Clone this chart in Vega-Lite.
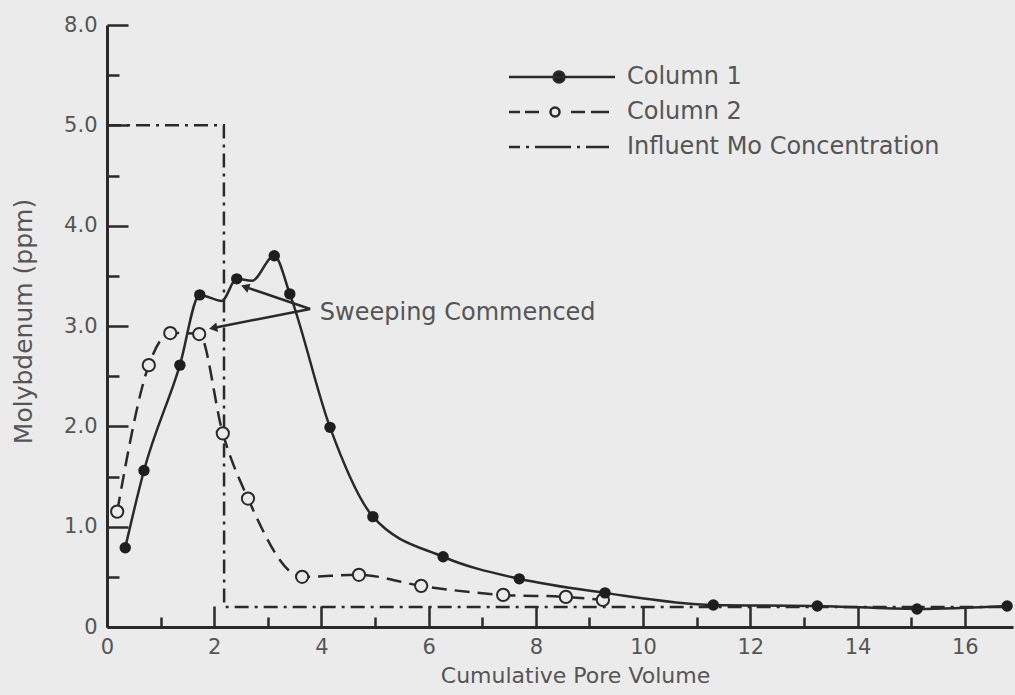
{
  "$schema": "https://vega.github.io/schema/vega-lite/v6.json",
  "autosize": {"type": "none"},
  "padding": {"left": 107, "top": 25, "right": 2, "bottom": 68},
  "width": 906,
  "height": 602,
  "background": "#ebebeb",
  "config": {
    "view": {"stroke": null},
    "font": "DejaVu Sans",
    "axis": {
      "grid": false,
      "domainColor": "#2a2a2a",
      "domainWidth": 3,
      "tickColor": "#2a2a2a",
      "tickWidth": 2.5,
      "labelFont": "DejaVu Sans",
      "labelFontSize": 21,
      "labelColor": "#555555",
      "titleFont": "DejaVu Sans",
      "titleFontSize": 24,
      "titleFontWeight": "normal",
      "titleColor": "#555555"
    },
    "legend": {
      "orient": "none",
      "legendX": 400,
      "legendY": 40,
      "padding": 0,
      "symbolSize": 400,
      "symbolStrokeColor": "#2a2a2a",
      "symbolStrokeWidth": 2.5,
      "symbolOpacity": 1,
      "labelOffset": 96,
      "labelLimit": 0,
      "labelFont": "DejaVu Sans",
      "labelFontSize": 24,
      "labelColor": "#555555",
      "rowPadding": 11,
      "title": null
    }
  },
  "datasets": {
    "measurements": [
      {"series": "Column 1", "x": 0.34, "y": 0.79, "kind": "sample"},
      {"series": "Column 1", "x": 0.69, "y": 1.56, "kind": "sample"},
      {"series": "Column 1", "x": 1.36, "y": 2.61, "kind": "sample"},
      {"series": "Column 1", "x": 1.73, "y": 3.31, "kind": "sample"},
      {"series": "Column 1", "x": 2.14, "y": 3.25, "kind": "vertex"},
      {"series": "Column 1", "x": 2.42, "y": 3.47, "kind": "sample"},
      {"series": "Column 1", "x": 2.70, "y": 3.45, "kind": "vertex"},
      {"series": "Column 1", "x": 3.12, "y": 3.70, "kind": "sample"},
      {"series": "Column 1", "x": 3.41, "y": 3.32, "kind": "sample"},
      {"series": "Column 1", "x": 4.16, "y": 1.99, "kind": "sample"},
      {"series": "Column 1", "x": 4.96, "y": 1.10, "kind": "sample"},
      {"series": "Column 1", "x": 6.27, "y": 0.70, "kind": "sample"},
      {"series": "Column 1", "x": 7.69, "y": 0.48, "kind": "sample"},
      {"series": "Column 1", "x": 9.29, "y": 0.34, "kind": "sample"},
      {"series": "Column 1", "x": 11.31, "y": 0.22, "kind": "sample"},
      {"series": "Column 1", "x": 13.25, "y": 0.21, "kind": "sample"},
      {"series": "Column 1", "x": 15.11, "y": 0.18, "kind": "sample"},
      {"series": "Column 1", "x": 16.79, "y": 0.21, "kind": "sample"},
      {"series": "Column 2", "x": 0.19, "y": 1.15, "kind": "sample"},
      {"series": "Column 2", "x": 0.78, "y": 2.61, "kind": "sample"},
      {"series": "Column 2", "x": 1.18, "y": 2.93, "kind": "sample"},
      {"series": "Column 2", "x": 1.72, "y": 2.92, "kind": "sample"},
      {"series": "Column 2", "x": 2.16, "y": 1.93, "kind": "sample"},
      {"series": "Column 2", "x": 2.63, "y": 1.28, "kind": "sample"},
      {"series": "Column 2", "x": 3.64, "y": 0.50, "kind": "sample"},
      {"series": "Column 2", "x": 4.70, "y": 0.52, "kind": "sample"},
      {"series": "Column 2", "x": 5.86, "y": 0.41, "kind": "sample"},
      {"series": "Column 2", "x": 7.39, "y": 0.32, "kind": "sample"},
      {"series": "Column 2", "x": 8.56, "y": 0.30, "kind": "sample"},
      {"series": "Column 2", "x": 9.25, "y": 0.27, "kind": "sample"},
      {"series": "Influent Mo Concentration", "x": 0, "y": 5.0, "kind": "vertex"},
      {"series": "Influent Mo Concentration", "x": 2.18, "y": 5.0, "kind": "vertex"},
      {"series": "Influent Mo Concentration", "x": 2.185, "y": 0.2, "kind": "vertex"},
      {"series": "Influent Mo Concentration", "x": 16.8, "y": 0.2, "kind": "vertex"}
    ],
    "label": [
      {"text": "Sweeping Commenced", "x": 3.97, "y": 3.13}
    ],
    "arrows": [
      {"arrow": "upper", "x": 3.79, "y": 3.17, "x2": 2.575, "y2": 3.39},
      {"arrow": "lower", "x": 3.79, "y": 3.17, "x2": 1.98, "y2": 2.98}
    ]
  },
  "resolve": {"axis": {"x": "independent", "y": "independent"}},
  "layer": [
    {
      "mark": {"type": "rule", "color": "#2a2a2a", "strokeWidth": 3},
      "encoding": {
        "y": {"datum": 6, "type": "quantitative", "scale": {"domain": [0, 6], "nice": false}, "axis": null}
      }
    },
    {
      "data": {"name": "measurements"},
      "transform": [{"filter": "datum.series == 'Influent Mo Concentration'"}],
      "mark": {"type": "line", "color": "#2a2a2a", "strokeWidth": 2.5, "strokeDash": [14, 6, 3, 6]},
      "encoding": {
        "x": {"field": "x", "type": "quantitative", "scale": {"domain": [0, 16.9], "nice": false, "zero": false},
          "axis": {"orient": "bottom", "values": [1, 3, 5, 7, 9, 11, 13, 15], "tickSize": -10, "labels": false, "domain": false, "title": null}},
        "y": {"field": "y", "type": "quantitative", "scale": {"domain": [0, 6], "nice": false},
          "axis": {"orient": "left", "values": [0.5, 1.5, 2.5, 3.5, 4.5, 5.5], "tickSize": -12, "labels": false, "domain": false, "title": null}}
      }
    },
    {
      "data": {"name": "measurements"},
      "transform": [{"filter": "datum.series == 'Column 2'"}],
      "mark": {"type": "line", "color": "#2a2a2a", "strokeWidth": 2.5, "strokeDash": [15, 8], "interpolate": "monotone"},
      "encoding": {
        "x": {"field": "x", "type": "quantitative", "scale": {"domain": [0, 16.9], "nice": false, "zero": false}, "axis": null},
        "y": {"field": "y", "type": "quantitative", "scale": {"domain": [0, 6], "nice": false}, "axis": null}
      }
    },
    {
      "data": {"name": "measurements"},
      "transform": [{"filter": "datum.series == 'Column 1'"}],
      "mark": {"type": "line", "color": "#2a2a2a", "strokeWidth": 2.5, "interpolate": "monotone"},
      "encoding": {
        "x": {"field": "x", "type": "quantitative", "scale": {"domain": [0, 16.9], "nice": false, "zero": false},
          "axis": {"orient": "bottom", "values": [0, 2, 4, 6, 8, 10, 12, 14, 16], "tickSize": -21, "labelPadding": 30, "labelFlush": false, "labelOverlap": false,
            "title": "Cumulative Pore Volume", "titleFontSize": 22, "titleX": 468, "titleY": 55, "titleAlign": "center", "titleBaseline": "alphabetic"}},
        "y": {"field": "y", "type": "quantitative", "scale": {"domain": [0, 6], "nice": false},
          "axis": {"orient": "left", "values": [0, 1, 2, 3, 4, 5, 6], "tickSize": -21, "labelPadding": 31, "labelOverlap": false,
            "labelExpr": "datum.value == 6 ? '8.0' : (datum.value == 0 ? '0' : format(datum.value, '.1f'))",
            "title": "Molybdenum (ppm)", "titleFontSize": 25, "titleX": -76, "titleY": 296, "titleAlign": "center", "titleBaseline": "alphabetic", "titleAngle": 270}}
      }
    },
    {
      "data": {"name": "measurements"},
      "transform": [{"filter": "datum.series == 'Column 2'"}],
      "mark": {"type": "point", "shape": "circle", "size": 150, "filled": false, "fill": "#ebebeb", "stroke": "#2a2a2a", "strokeWidth": 2, "opacity": 1},
      "encoding": {
        "x": {"field": "x", "type": "quantitative", "scale": {"domain": [0, 16.9], "nice": false, "zero": false}, "axis": null},
        "y": {"field": "y", "type": "quantitative", "scale": {"domain": [0, 6], "nice": false}, "axis": null}
      }
    },
    {
      "data": {"name": "measurements"},
      "transform": [{"filter": "datum.series == 'Column 1' && datum.kind == 'sample'"}],
      "mark": {"type": "point", "shape": "circle", "size": 130, "filled": true, "color": "#1e1e1e", "opacity": 1},
      "encoding": {
        "x": {"field": "x", "type": "quantitative", "scale": {"domain": [0, 16.9], "nice": false, "zero": false}, "axis": null},
        "y": {"field": "y", "type": "quantitative", "scale": {"domain": [0, 6], "nice": false}, "axis": null}
      }
    },
    {
      "data": {"name": "measurements"},
      "mark": {"type": "point", "filled": true, "opacity": 0, "strokeWidth": 2.5, "clip": true},
      "encoding": {
        "x": {"field": "x", "type": "quantitative", "scale": {"domain": [0, 16.9], "nice": false, "zero": false}, "axis": null},
        "y": {"field": "y", "type": "quantitative", "scale": {"domain": [0, 6], "nice": false}, "axis": null},
        "shape": {
          "field": "series", "type": "nominal",
          "scale": {
            "domain": ["Column 1", "Column 2", "Influent Mo Concentration"],
            "range": [
              "M-1,0H9.6M4.55,0A0.55,0.55 0 1,1 3.45,0A0.55,0.55 0 1,1 4.55,0Z",
              "M-1,0H0.1M0.6,0H2.0M5.2,0H6.6M7.2,0H9.0M4.05,0A0.45,0.45 0 1,1 3.15,0A0.45,0.45 0 1,1 4.05,0Z",
              "M-1,0H0.1M0.7,0H1.0M1.6,0H5.2M5.8,0H6.1M6.7,0H9.0"
            ]
          }
        },
        "fill": {
          "field": "series", "type": "nominal",
          "scale": {
            "domain": ["Column 1", "Column 2", "Influent Mo Concentration"],
            "range": ["#1e1e1e", "#ebebeb", "transparent"]
          }
        },
        "stroke": {
          "field": "series", "type": "nominal",
          "scale": {
            "domain": ["Column 1", "Column 2", "Influent Mo Concentration"],
            "range": ["#2a2a2a", "#2a2a2a", "#2a2a2a"]
          }
        }
      }
    },
    {
      "data": {"name": "arrows"},
      "mark": {"type": "rule", "color": "#2a2a2a", "strokeWidth": 2.5},
      "encoding": {
        "x": {"field": "x", "type": "quantitative", "scale": {"domain": [0, 16.9], "nice": false, "zero": false}, "axis": null},
        "y": {"field": "y", "type": "quantitative", "scale": {"domain": [0, 6], "nice": false}, "axis": null},
        "x2": {"field": "x2"},
        "y2": {"field": "y2"}
      }
    },
    {
      "data": {"name": "arrows"},
      "transform": [{"filter": "datum.arrow == 'upper'"}],
      "mark": {"type": "point", "shape": "triangle-left", "filled": true, "color": "#2a2a2a", "size": 90, "angle": 19, "opacity": 1},
      "encoding": {
        "x": {"field": "x2", "type": "quantitative", "scale": {"domain": [0, 16.9], "nice": false, "zero": false}, "axis": null},
        "y": {"field": "y2", "type": "quantitative", "scale": {"domain": [0, 6], "nice": false}, "axis": null}
      }
    },
    {
      "data": {"name": "arrows"},
      "transform": [{"filter": "datum.arrow == 'lower'"}],
      "mark": {"type": "point", "shape": "triangle-left", "filled": true, "color": "#2a2a2a", "size": 90, "angle": 349, "opacity": 1},
      "encoding": {
        "x": {"field": "x2", "type": "quantitative", "scale": {"domain": [0, 16.9], "nice": false, "zero": false}, "axis": null},
        "y": {"field": "y2", "type": "quantitative", "scale": {"domain": [0, 6], "nice": false}, "axis": null}
      }
    },
    {
      "data": {"name": "label"},
      "mark": {"type": "text", "align": "left", "baseline": "middle", "font": "DejaVu Sans", "fontSize": 24, "color": "#555555"},
      "encoding": {
        "x": {"field": "x", "type": "quantitative", "scale": {"domain": [0, 16.9], "nice": false, "zero": false}, "axis": null},
        "y": {"field": "y", "type": "quantitative", "scale": {"domain": [0, 6], "nice": false}, "axis": null},
        "text": {"field": "text"}
      }
    }
  ]
}
